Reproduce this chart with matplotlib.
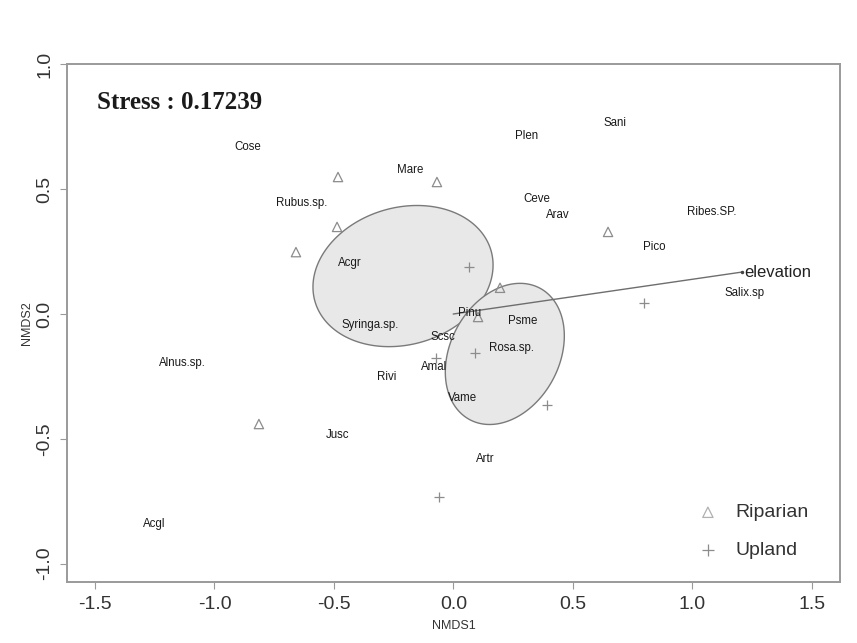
import numpy as np
import matplotlib
matplotlib.use("Agg")
import matplotlib.pyplot as plt

# Site scores by habitat group
riparian_x = [-0.483, -0.069, -0.487, -0.659, 0.647, 0.195, 0.103, -0.814]
riparian_y = [0.549, 0.529, 0.349, 0.248, 0.329, 0.105, -0.012, -0.441]
upland_x = [0.065, 0.797, 0.090, 0.391, -0.061, -0.073]
upland_y = [0.188, 0.044, -0.156, -0.365, -0.733, -0.176]

# Species scores
species = ["Cose", "Mare", "Rubus.sp.", "Acgr", "Plen", "Sani", "Ceve", "Arav",
           "Ribes.SP.", "Pico", "Salix.sp", "Syringa.sp.", "Pinu", "Psme", "Scsc",
           "Rosa.sp.", "Amal", "Rivi", "Vame", "Jusc", "Alnus.sp.", "Acgl", "Artr"]
species_x = [-0.860, -0.182, -0.634, -0.433, 0.308, 0.676, 0.350, 0.437,
             1.081, 0.839, 1.220, -0.349, 0.069, 0.291, -0.044,
             0.245, -0.082, -0.278, 0.040, -0.483, -1.136, -1.253, 0.132]
species_y = [0.669, 0.577, 0.445, 0.204, 0.713, 0.766, 0.461, 0.397,
             0.409, 0.269, 0.084, -0.044, 0.004, -0.028, -0.092,
             -0.136, -0.212, -0.252, -0.337, -0.485, -0.196, -0.842, -0.581]

# Group ellipses: centre and covariance
ell_riparian_center = [-0.211, 0.152]
ell_riparian_cov = [[0.142, 0.0166], [0.0166, 0.080]]
ell_upland_center = [0.215, -0.160]
ell_upland_cov = [[0.062, 0.018], [0.018, 0.080]]

# Environmental vector
env_name = "elevation"
env_vec = [1.207, 0.168]

stress = 0.17239

fig = plt.figure(figsize=(8.57, 6.43), dpi=100)
ax = fig.add_axes([0.0782, 0.0949, 0.9018, 0.8056])
ax.set_xlim(-1.617, 1.617)
ax.set_ylim(-1.074, 1.002)

grey = "#8c8c8c"

def ellipse_points(center, cov, n=200):
    t = np.linspace(0, 2 * np.pi, n)
    L = np.linalg.cholesky(np.array(cov))
    pts = L @ np.vstack([np.cos(t), np.sin(t)])
    return center[0] + pts[0], center[1] + pts[1]

for c, cv in [(ell_riparian_center, ell_riparian_cov), (ell_upland_center, ell_upland_cov)]:
    ex, ey = ellipse_points(c, cv)
    ax.fill(ex, ey, facecolor="#e8e8e8", edgecolor="#7a7a7a", linewidth=1.0, zorder=1)

ax.plot([0, env_vec[0]], [0, env_vec[1]], color="#6e6e6e", linewidth=1.0, zorder=2)
ax.plot([env_vec[0]], [env_vec[1]], marker="o", markersize=1.5, color="#444444", zorder=2)
ax.text(env_vec[0] + 0.012, env_vec[1], env_name, fontsize=12, family="Liberation Sans",
        color="#222222", ha="left", va="center", zorder=4)

ax.scatter(riparian_x, riparian_y, marker="^", s=45, facecolors="none",
           edgecolors=grey, linewidths=0.9, zorder=3)
ax.scatter(upland_x, upland_y, marker="+", s=60, color=grey, linewidths=0.9, zorder=3)

for name, x, y in zip(species, species_x, species_y):
    ax.text(x, y, name, fontsize=8.3, family="Liberation Sans", color="#1a1a1a",
            ha="center", va="center", zorder=4)

ax.text(0.039, 0.925, f"Stress : {stress}", transform=ax.transAxes,
        fontsize=18, family="Liberation Serif", fontweight="bold",
        color="#1a1a1a", ha="left", va="center")

# Legend
ax.scatter([], [], marker="^", s=55, facecolors="none", edgecolors="#b0b0b0",
           linewidths=0.9, label="Riparian")
ax.scatter([], [], marker="+", s=70, color=grey, linewidths=0.9, label="Upland")
leg = ax.legend(loc="upper left", frameon=False, prop={"family": "Liberation Sans", "size": 14},
                bbox_to_anchor=(0.8066, 0.166), handlelength=1.0, handletextpad=0.9,
                labelspacing=1.05, borderaxespad=0.0)
for t in leg.get_texts():
    t.set_color("#333333")

for s in ax.spines.values():
    s.set_color("#9a9a9a")
    s.set_linewidth(1.4)

ax.set_xticks([-1.5, -1.0, -0.5, 0.0, 0.5, 1.0, 1.5])
ax.set_yticks([-1.0, -0.5, 0.0, 0.5, 1.0])
ax.set_xticklabels(["-1.5", "-1.0", "-0.5", "0.0", "0.5", "1.0", "1.5"])
ax.set_yticklabels(["-1.0", "-0.5", "0.0", "0.5", "1.0"], rotation=90, va="center")
ax.tick_params(axis="both", direction="out", length=5, width=0.8, color="#9a9a9a",
               labelsize=14, labelcolor="#333333", pad=5)
for lab in ax.get_xticklabels() + ax.get_yticklabels():
    lab.set_family("Liberation Sans")

ax.set_xlabel("NMDS1", fontsize=9, family="Liberation Sans", color="#333333", labelpad=5)
ax.set_ylabel("NMDS2", fontsize=9, family="Liberation Sans", color="#333333", labelpad=2)

fig.savefig("out.png", dpi=100)
